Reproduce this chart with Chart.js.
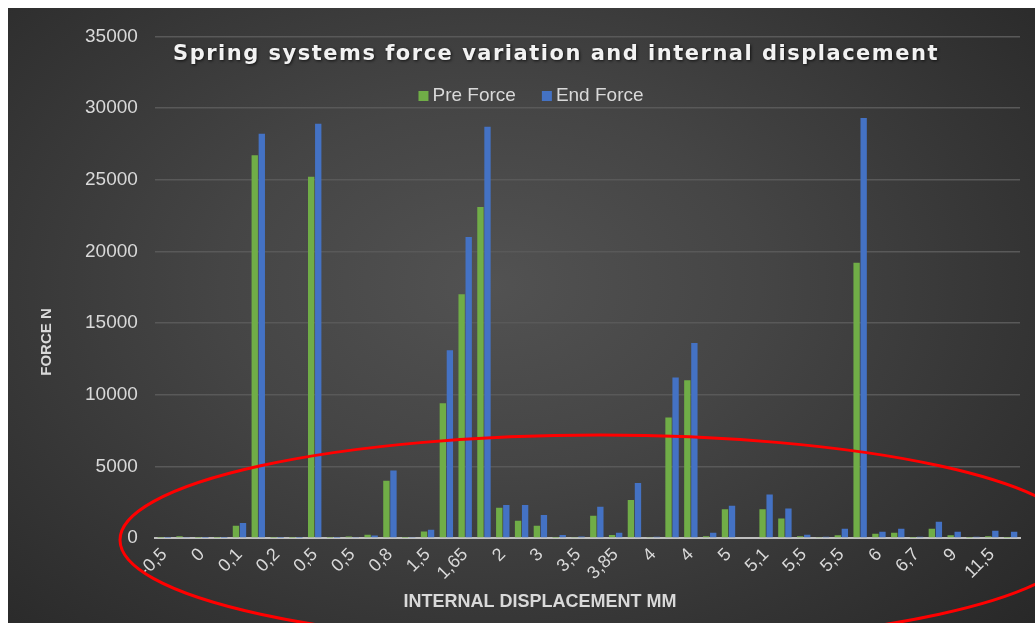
<!DOCTYPE html>
<html>
<head>
<meta charset="utf-8">
<script src="https://cdn.jsdelivr.net/npm/chart.js@4/dist/chart.umd.min.js"></script>
<style>
  html, body { margin: 0; padding: 0; background: #ffffff; }
  #wrap {
    position: absolute; left: 8px; top: 8px; width: 1027px; height: 615px;
    background: radial-gradient(ellipse 75% 85% at 47% 45%, #525252 0%, #454545 35%, #343434 70%, #262626 100%);
  }
  canvas { display: block; }
</style>
</head>
<body>
<div id="wrap"><canvas id="c" width="1027" height="615"></canvas></div>
<script>
const chartTitle = 'Spring systems force variation and internal displacement';
const xAxisTitle = 'INTERNAL DISPLACEMENT MM';
const yAxisTitle = 'FORCE N';
const seriesNames = ['Pre Force', 'End Force'];

const displacement = [
  '-0,5', '0', '0', '0,1', '0,1', '0,15', '0,2', '0,5', '0,5', '0,5',
  '0,5', '0,8', '0,8', '1', '1,5', '1,65', '1,65', '1,65', '2', '2,5',
  '3', '3,5', '3,5', '3,85', '3,85', '4', '4', '4', '4', '5',
  '5', '5', '5,1', '5,5', '5,5', '5,5', '5,5', '6', '6', '6,5',
  '6,7', '8', '9', '10', '11,5', '12'
];

const preForce = [
  10, 120, 10, 10, 850, 26700, 10, 10, 25200, 20,
  110, 230, 4000, 20, 450, 9400, 17000, 23100, 2100, 1200,
  850, 20, 40, 1550, 210, 2640, 30, 8400, 11000, 120,
  2000, 0, 2000, 1350, 120, 30, 190, 19200, 300, 370,
  20, 650, 190, 20, 120, 20
];

const endForce = [
  10, 70, 20, 20, 1050, 28200, 20, 20, 28900, 20,
  70, 170, 4700, 40, 580, 13100, 21000, 28700, 2300, 2300,
  1600, 200, 100, 2180, 370, 3840, 80, 11200, 13600, 370,
  2250, 0, 3030, 2060, 230, 80, 650, 29300, 440, 650,
  80, 1130, 440, 80, 510, 440
];

const yTicks = { min: 0, max: 35000, step: 5000 };
const colors = { pre: '#70AD47', end: '#4472C4', text: '#D9D9D9', grid: '#595959', axis: '#BFBFBF' };

const overlay = {
  id: 'overlay',
  afterDraw(chart) {
    const ctx = chart.ctx;
    // Title
    ctx.save();
    ctx.font = 'bold 21px "DejaVu Sans"';
    ctx.letterSpacing = '1.5px';
    ctx.fillStyle = '#F2F2F2';
    ctx.textAlign = 'center';
    ctx.textBaseline = 'middle';
    ctx.shadowColor = 'rgba(0,0,0,0.7)';
    ctx.shadowBlur = 3;
    ctx.shadowOffsetX = 1;
    ctx.shadowOffsetY = 1;
    ctx.fillText(chartTitle, 548, 47);
    ctx.restore();

    // Legend
    ctx.save();
    ctx.font = '19px "Liberation Sans"';
    ctx.textBaseline = 'middle';
    const box = 10, gap = 4, between = 26;
    const w1 = ctx.measureText(seriesNames[0]).width;
    const w2 = ctx.measureText(seriesNames[1]).width;
    const total = box + gap + w1 + between + box + gap + w2;
    let x = 523 - total / 2;
    const ly = 88;
    ctx.fillStyle = colors.pre;
    ctx.fillRect(x, ly - box / 2, box, box);
    ctx.fillStyle = colors.text;
    ctx.fillText(seriesNames[0], x + box + gap, ly);
    x += box + gap + w1 + between;
    ctx.fillStyle = colors.end;
    ctx.fillRect(x, ly - box / 2, box, box);
    ctx.fillStyle = colors.text;
    ctx.fillText(seriesNames[1], x + box + gap, ly);
    ctx.restore();

    // Axis titles
    ctx.save();
    ctx.fillStyle = colors.text;
    ctx.font = 'bold 18px "Liberation Sans"';
    ctx.textAlign = 'center';
    ctx.textBaseline = 'middle';
    ctx.fillText(xAxisTitle, 532, 594);
    ctx.translate(39, 334);
    ctx.rotate(-Math.PI / 2);
    ctx.font = 'bold 15px "Liberation Sans"';
    ctx.fillText(yAxisTitle, 0, 0);
    ctx.restore();

    // Red highlight ellipse annotation
    ctx.save();
    ctx.strokeStyle = '#FF0000';
    ctx.lineWidth = 3;
    ctx.beginPath();
    ctx.ellipse(592, 532, 480, 105, 0, 0, Math.PI * 2);
    ctx.stroke();
    ctx.restore();
  }
};

new Chart(document.getElementById('c'), {
  type: 'bar',
  data: {
    labels: displacement,
    datasets: [
      { label: seriesNames[0], data: preForce, backgroundColor: colors.pre, borderWidth: 0 },
      { label: seriesNames[1], data: endForce, backgroundColor: colors.end, borderWidth: 0 }
    ]
  },
  options: {
    responsive: false,
    animation: false,
    layout: { padding: { left: 60, top: 9, right: 15, bottom: 33 } },
    datasets: { bar: { categoryPercentage: 0.75, barPercentage: 0.9 } },
    plugins: { legend: { display: false }, title: { display: false }, tooltip: { enabled: false } },
    scales: {
      x: {
        grid: { display: false, drawTicks: false },
        border: { display: true, color: colors.axis, width: 2 },
        ticks: {
          color: colors.text,
          font: { family: 'Liberation Sans', size: 18 },
          autoSkip: false,
          maxRotation: 45,
          minRotation: 45,
          padding: 6,
          callback: (v, i) => (i % 2 === 0 ? displacement[i] : '')
        }
      },
      y: {
        min: yTicks.min,
        max: yTicks.max,
        grid: { color: colors.grid, lineWidth: 1.5, drawTicks: false },
        border: { display: false },
        ticks: {
          stepSize: yTicks.step,
          color: colors.text,
          font: { family: 'Liberation Sans', size: 19 },
          padding: 17,
          callback: v => String(v)
        }
      }
    }
  },
  plugins: [overlay]
});
</script>
</body>
</html>
